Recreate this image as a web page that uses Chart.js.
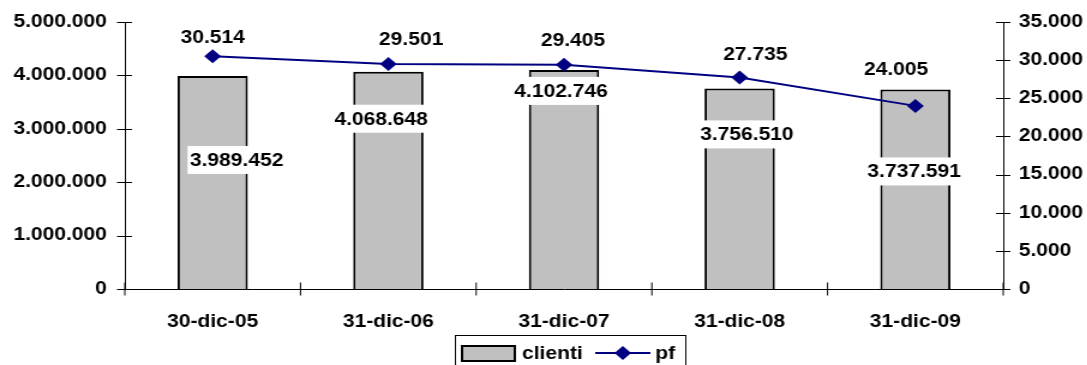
<!DOCTYPE html>
<html>
<head>
<meta charset="utf-8">
<script src="https://cdn.jsdelivr.net/npm/chart.js@4.4.1/dist/chart.umd.min.js"></script>
<style>
  html, body { margin: 0; padding: 0; background: #fff; overflow: hidden; }
  #wrap { width: 1087px; height: 365px; overflow: hidden; }
  /* il grafico originale è più largo che alto: stiriamo il canvas in orizzontale */
  #grafico { transform: scaleX(1.2); transform-origin: 0 0; }
</style>
</head>
<body>
<div id="wrap"><canvas id="grafico" width="906" height="365"></canvas></div>
<script>
const date = ['30-dic-05', '31-dic-06', '31-dic-07', '31-dic-08', '31-dic-09'];
const clienti = [3989452, 4068648, 4102746, 3756510, 3737591];
const pf = [30514, 29501, 29405, 27735, 24005];

const maxClienti = 5000000, passoClienti = 1000000;
const maxPf = 35000, passoPf = 5000;

// spostamento delle etichette rispetto al punto/cima della barra
const spostaBarre = [[20, 84], [-6, 47], [-2.5, 21], [6, 46], [-1, 82]];
const spostaPf = [[0, -18], [19, -24], [7.5, -24], [13, -22], [-16, -36]];

const FONT = 'bold 17.5px "Liberation Sans", Arial, sans-serif';
const BLU = '#000080';
const GRIGIO = '#C0C0C0';

function puntini(v) {
  return String(v).replace(/\B(?=(\d{3})+(?!\d))/g, '.');
}

// tacche che attraversano gli assi, come in Excel
const tacche = {
  id: 'tacche',
  afterDraw(chart) {
    const ctx = chart.ctx;
    const a = chart.chartArea;
    const { y, y1 } = chart.scales;
    ctx.save();
    ctx.strokeStyle = '#000';
    ctx.lineWidth = 1;
    ctx.beginPath();
    y.ticks.forEach(t => {
      const py = Math.round(y.getPixelForValue(t.value)) + 0.5;
      ctx.moveTo(a.left - 6.5, py); ctx.lineTo(a.left + 6, py);
    });
    y1.ticks.forEach(t => {
      const py = Math.round(y1.getPixelForValue(t.value)) + 0.5;
      ctx.moveTo(a.right - 6, py); ctx.lineTo(a.right + 6, py);
    });
    const passo = (a.right - a.left) / date.length;
    for (let i = 0; i <= date.length; i++) {
      const px = a.left + i * passo;
      ctx.moveTo(px, a.bottom - 6.5); ctx.lineTo(px, a.bottom + 6.5);
    }
    ctx.stroke();
    ctx.restore();
  }
};

// valori sopra le barre e sopra i punti della linea
const etichette = {
  id: 'etichette',
  afterDatasetsDraw(chart) {
    const ctx = chart.ctx;
    ctx.save();
    ctx.font = FONT;
    ctx.textAlign = 'center';
    ctx.textBaseline = 'middle';
    chart.getDatasetMeta(0).data.forEach((bar, i) => {
      const txt = puntini(clienti[i]);
      const cx = bar.x + spostaBarre[i][0];
      const cy = bar.y + spostaBarre[i][1];
      const w = ctx.measureText(txt).width + 4;
      ctx.fillStyle = '#fff';
      ctx.fillRect(cx - w / 2, cy - 14, w, 28);
      ctx.fillStyle = '#000';
      ctx.fillText(txt, cx, cy + 1);
    });
    chart.getDatasetMeta(1).data.forEach((pt, i) => {
      ctx.fillStyle = '#000';
      ctx.fillText(puntini(pf[i]), pt.x + spostaPf[i][0], pt.y + spostaPf[i][1]);
    });
    ctx.restore();
  }
};

// legenda con cornice, in basso
const legenda = {
  id: 'legenda',
  afterDraw(chart) {
    const ctx = chart.ctx;
    const ds = chart.data.datasets;
    ctx.save();
    ctx.font = FONT;
    ctx.textBaseline = 'middle';
    ctx.textAlign = 'left';
    const x0 = 379, y0 = 335, cy = 353;
    ctx.strokeStyle = '#000';
    ctx.lineWidth = 1;
    ctx.strokeRect(x0 + 0.5, y0 + 0.5, 192, 40);
    // campione barre
    ctx.fillStyle = GRIGIO;
    ctx.fillRect(x0 + 6, cy - 7, 44, 15);
    ctx.lineWidth = 2;
    ctx.strokeRect(x0 + 6, cy - 7, 44, 15);
    ctx.fillStyle = '#000';
    ctx.fillText(ds[0].label, x0 + 56, cy + 1);
    // campione linea
    ctx.strokeStyle = BLU;
    ctx.lineWidth = 2;
    ctx.beginPath();
    ctx.moveTo(x0 + 117, cy); ctx.lineTo(x0 + 163, cy);
    ctx.stroke();
    ctx.fillStyle = BLU;
    ctx.beginPath();
    const dx = x0 + 140;
    ctx.moveTo(dx - 7, cy); ctx.lineTo(dx, cy - 7); ctx.lineTo(dx + 7, cy); ctx.lineTo(dx, cy + 7);
    ctx.closePath();
    ctx.fill();
    ctx.fillStyle = '#000';
    ctx.fillText(ds[1].label, x0 + 167, cy + 1);
    ctx.restore();
  }
};

Chart.defaults.font.family = '"Liberation Sans", Arial, sans-serif';
Chart.defaults.font.size = 17.5;
Chart.defaults.font.weight = 'bold';
Chart.defaults.color = '#000';

new Chart(document.getElementById('grafico').getContext('2d'), {
  data: {
    labels: date,
    datasets: [
      {
        type: 'bar',
        label: 'clienti',
        data: clienti,
        yAxisID: 'y',
        backgroundColor: GRIGIO,
        borderColor: '#000',
        borderWidth: 2,
        barPercentage: 0.4,
        categoryPercentage: 1,
        order: 2
      },
      {
        type: 'line',
        label: 'pf',
        data: pf,
        yAxisID: 'y1',
        borderColor: BLU,
        backgroundColor: BLU,
        borderWidth: 2,
        pointStyle: 'rectRot',
        pointRadius: 7,
        pointBorderWidth: 0,
        tension: 0,
        order: 1
      }
    ]
  },
  options: {
    responsive: false,
    animation: false,
    devicePixelRatio: 1,
    layout: { padding: { top: 22, left: 0, right: 0, bottom: 0 } },
    plugins: {
      legend: { display: false },
      tooltip: { enabled: false }
    },
    scales: {
      x: {
        offset: true,
        grid: { display: false, drawTicks: false },
        border: { display: true, color: '#000', width: 1 },
        ticks: { padding: 23, autoSkip: false, maxRotation: 0 },
        afterFit(s) { s.height = 76; }
      },
      y: {
        position: 'left',
        min: 0,
        max: maxClienti,
        grid: { display: false, drawTicks: false },
        border: { display: true, color: '#000', width: 1 },
        ticks: { stepSize: passoClienti, padding: 15, font: { lineHeight: 1 }, callback: v => puntini(v) },
        afterFit(s) { s.width = 104; s.paddingTop = 0; s.paddingBottom = 0; }
      },
      y1: {
        position: 'right',
        min: 0,
        max: maxPf,
        grid: { display: false, drawTicks: false },
        border: { display: true, color: '#000', width: 1 },
        ticks: { stepSize: passoPf, padding: 13, font: { lineHeight: 1 }, callback: v => puntini(v) },
        afterFit(s) { s.width = 70; s.paddingTop = 0; s.paddingBottom = 0; }
      }
    }
  },
  plugins: [tacche, etichette, legenda]
});
</script>
</body>
</html>
